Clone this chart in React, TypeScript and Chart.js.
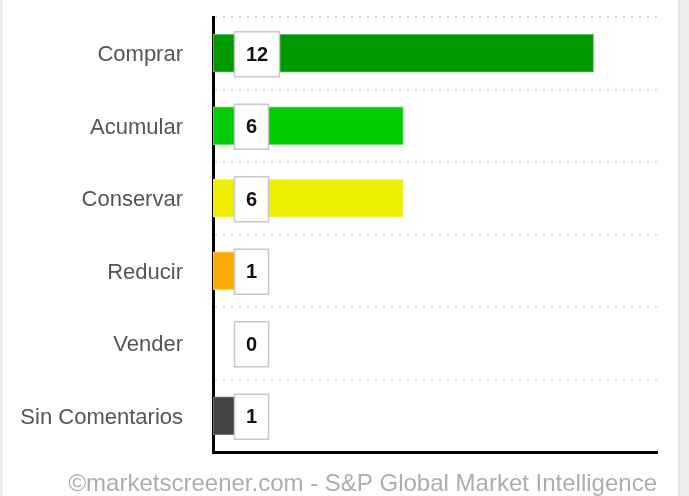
import React, { useEffect, useRef } from "react";
import { Chart, registerables } from "chart.js";

Chart.register(...registerables);

const categories = ["Comprar", "Acumular", "Conservar", "Reducir", "Vender", "Sin Comentarios"];
const values = [12, 6, 6, 1, 0, 1];
const barColors = ["#009900", "#00cc00", "#eeee00", "#ffaa00", "#ffffff", "#444444"];
const barBorders = ["#66c266", "#66e066", "#f4f466", "#ffcc66", "#ffffff", "#7a7a7a"];
const footerText = "©marketscreener.com - S&P Global Market Intelligence";
const xMax = 14;

const W = 689;
const H = 496;

const framePlugin = {
  id: "frame",
  beforeDraw(chart: any) {
    const ctx = chart.ctx;
    ctx.save();
    ctx.fillStyle = "#efefef";
    ctx.fillRect(0, 0, W, H);
    ctx.fillStyle = "#ffffff";
    ctx.fillRect(3, 0, 675, H);
    ctx.fillStyle = "#e2e2e2";
    ctx.fillRect(678, 0, 2, H);
    ctx.restore();
  },
  afterDraw(chart: any) {
    const ctx = chart.ctx;
    const area = chart.chartArea;
    ctx.save();
    ctx.font = "24px 'Liberation Sans', Arial, sans-serif";
    ctx.fillStyle = "#adadad";
    ctx.textAlign = "right";
    ctx.textBaseline = "middle";
    ctx.fillText(footerText, area.right, 484);
    ctx.restore();
  },
};

const valueBoxPlugin = {
  id: "valueBoxes",
  afterDatasetsDraw(chart: any) {
    const ctx = chart.ctx;
    const meta = chart.getDatasetMeta(0);
    const xScale = chart.scales.x;
    const x0 = xScale.getPixelForValue(0) + 21;
    ctx.save();
    ctx.font = "bold 20px 'Liberation Sans', Arial, sans-serif";
    meta.data.forEach((bar: any, i: number) => {
      const txt = String(values[i]);
      const tw = ctx.measureText(txt).width;
      const bw = Math.round(tw + 24);
      const bh = 46;
      const y = bar.y + 1;
      ctx.fillStyle = "#ffffff";
      ctx.fillRect(x0, y - bh / 2, bw, bh);
      ctx.strokeStyle = "#c8c8c8";
      ctx.lineWidth = 1.5;
      ctx.strokeRect(x0 + 0.5, y - bh / 2 + 0.5, bw - 1, bh - 1);
      ctx.fillStyle = "#111111";
      ctx.textAlign = "center";
      ctx.textBaseline = "middle";
      ctx.fillText(txt, x0 + bw / 2, y + 1);
    });
    ctx.restore();
  },
};

export default function App() {
  const ref = useRef<HTMLCanvasElement>(null);

  useEffect(() => {
    document.body.style.margin = "0";
    const canvas = ref.current;
    if (!canvas) return;
    const chart = new Chart(canvas, {
      type: "bar",
      data: {
        labels: categories,
        datasets: [
          {
            data: values,
            backgroundColor: barColors,
            borderColor: barBorders,
            borderWidth: 1,
            borderSkipped: false,
            barThickness: 38,
          },
        ],
      },
      options: {
        indexAxis: "y",
        responsive: false,
        animation: false,
        layout: { padding: { left: 0, right: 32, top: 17, bottom: 44 } },
        plugins: {
          legend: { display: false },
          tooltip: { enabled: false },
          title: { display: false },
        },
        scales: {
          x: {
            min: 0,
            max: xMax,
            ticks: { display: false },
            grid: { display: false, drawTicks: false },
            border: { display: true, color: "#000000", width: 3 },
            afterFit(scale: any) {
              scale.height = 0;
              scale.paddingLeft = 0;
              scale.paddingRight = 0;
            },
          },
          y: {
            ticks: {
              color: "#555555",
              padding: 30,
              labelOffset: 2,
              font: { family: "'Liberation Sans', Arial, sans-serif", size: 22 },
            },
            grid: {
              display: true,
              drawTicks: false,
              color: "#d4d4d4",
              lineWidth: 1.5,
            },
            border: { display: true, color: "#000000", width: 3, dash: [2, 6] },
            afterFit(scale: any) {
              scale.width = 213;
              scale.paddingTop = 0;
              scale.paddingBottom = 0;
            },
          },
        },
      },
      plugins: [framePlugin, valueBoxPlugin],
    } as any);
    return () => chart.destroy();
  }, []);

  return (
    <div style={{ width: W, height: H }}>
      <canvas ref={ref} width={W} height={H} style={{ display: "block" }} />
    </div>
  );
}
